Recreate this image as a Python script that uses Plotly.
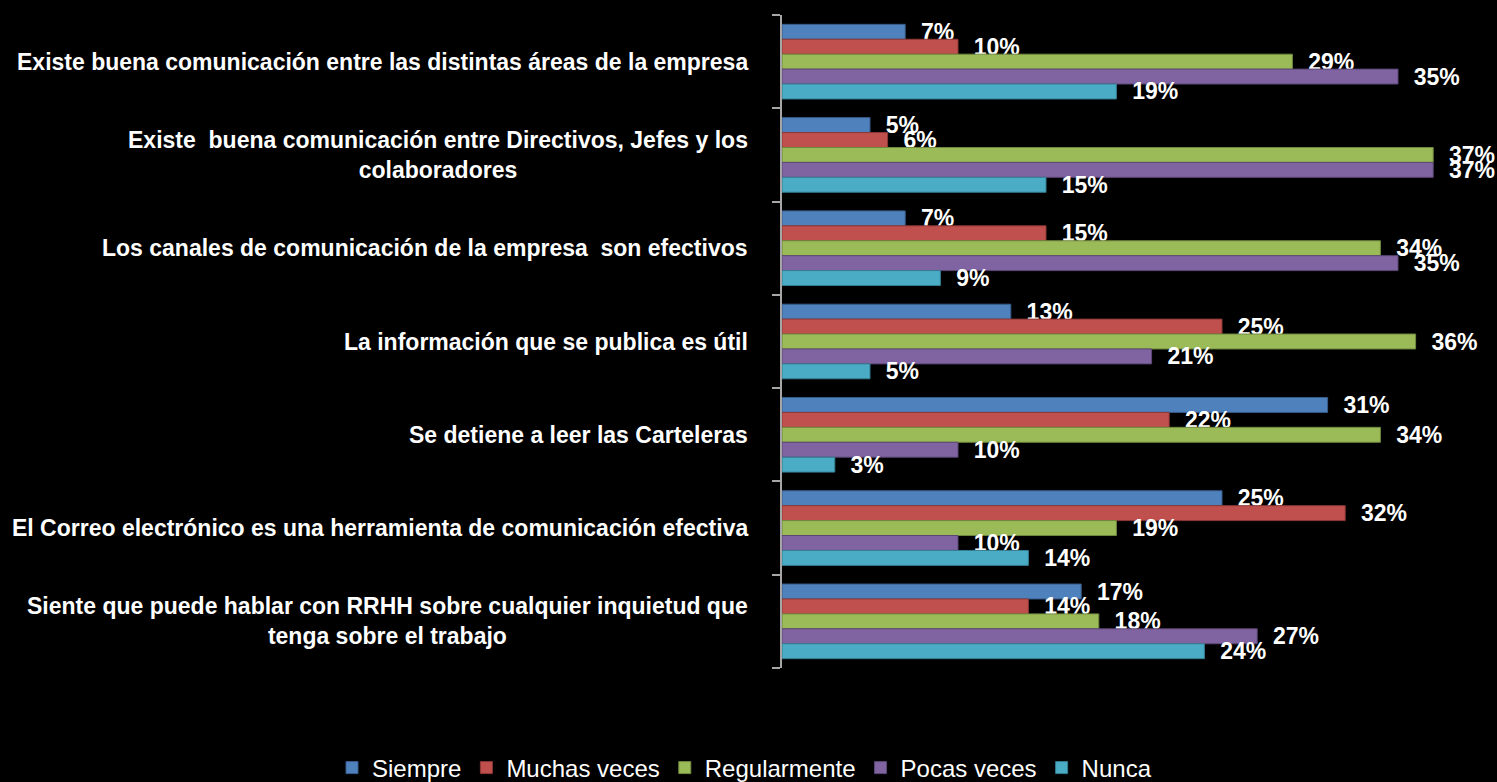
import plotly.graph_objects as go

categories = [
    "Existe buena comunicación entre las distintas áreas de la empresa",
    "Existe  buena comunicación entre Directivos, Jefes y los<br>colaboradores",
    "Los canales de comunicación de la empresa  son efectivos",
    "La información que se publica es útil",
    "Se detiene a leer las Carteleras",
    "El Correo electrónico es una herramienta de comunicación efectiva",
    "Siente que puede hablar con RRHH sobre cualquier inquietud que<br>tenga sobre el trabajo",
]
series_names = ["Siempre", "Muchas veces", "Regularmente", "Pocas veces", "Nunca"]
siempre = [7, 5, 7, 13, 31, 25, 17]
muchas = [10, 6, 15, 25, 22, 32, 14]
regular = [29, 37, 34, 36, 34, 19, 18]
pocas = [35, 37, 35, 21, 10, 10, 27]
nunca = [19, 15, 9, 5, 3, 14, 24]
colors = ["#4F81BD", "#C0504D", "#9BBB59", "#8064A2", "#4BACC6"]
edge = ["#385D8A", "#8C3836", "#71893F", "#5C4776", "#357D91"]

W, H = 1497, 782
x0, y_top, y_bot = 782, 15, 668
px_per = 17.6
ml, mt, mb, mr = x0, y_top, H - y_bot, 15
plot_w = W - ml - mr
plot_h = H - mt - mb

fig = go.Figure()
ypos = list(range(len(categories)))
for name, vals, c, e in zip(series_names, [siempre, muchas, regular, pocas, nunca], colors, edge):
    fig.add_trace(go.Bar(
        y=ypos, x=vals, name=name, orientation="h",
        marker=dict(color=c, line=dict(color=e, width=1)),
        text=[f"<b>  {v}%</b>" for v in vals], textposition="outside",
        textfont=dict(color="white", size=23, family="Liberation Sans"),
        constraintext="none", cliponaxis=False,
    ))

annotations = []
for i, cat in enumerate(categories):
    annotations.append(dict(
        x=0, xref="paper", xanchor="right", xshift=-32,
        y=i, yref="y", yanchor="middle",
        text=f"<b>{cat}</b>", showarrow=False, align="center",
        font=dict(color="white", size=23, family="Liberation Sans"),
    ))

fig.update_layout(
    width=W, height=H,
    paper_bgcolor="black", plot_bgcolor="black",
    margin=dict(l=ml, r=mr, t=mt, b=mb, autoexpand=False),
    barmode="group", bargap=0.2, bargroupgap=0,
    xaxis=dict(range=[0, plot_w / px_per], showgrid=False, zeroline=False,
               showticklabels=False, showline=False),
    yaxis=dict(range=[6.5, -0.5], showgrid=False, zeroline=False,
               tickvals=[i - 0.5 for i in range(8)], ticktext=[""] * 8,
               ticks="outside", ticklen=8, tickcolor="#A6A6A6", tickwidth=2,
               showline=True, linecolor="#A6A6A6", linewidth=2),
    legend=dict(orientation="h", xref="paper", yref="paper",
                x=(332 - ml) / plot_w, xanchor="left",
                y=-(768 - y_bot) / plot_h, yanchor="middle",
                font=dict(color="white", size=24, family="Liberation Sans"),
                itemwidth=30, traceorder="normal", bgcolor="rgba(0,0,0,0)"),
    annotations=annotations,
    showlegend=True,
)
fig.write_html("out.html", config={"displayModeBar": False})

with open("out.html", "r", encoding="utf-8") as f:
    html = f.read()
html = html.replace("<head>", "<head><style>html,body{margin:0;padding:0;background:#000;}</style>", 1)
with open("out.html", "w", encoding="utf-8") as f:
    f.write(html)
